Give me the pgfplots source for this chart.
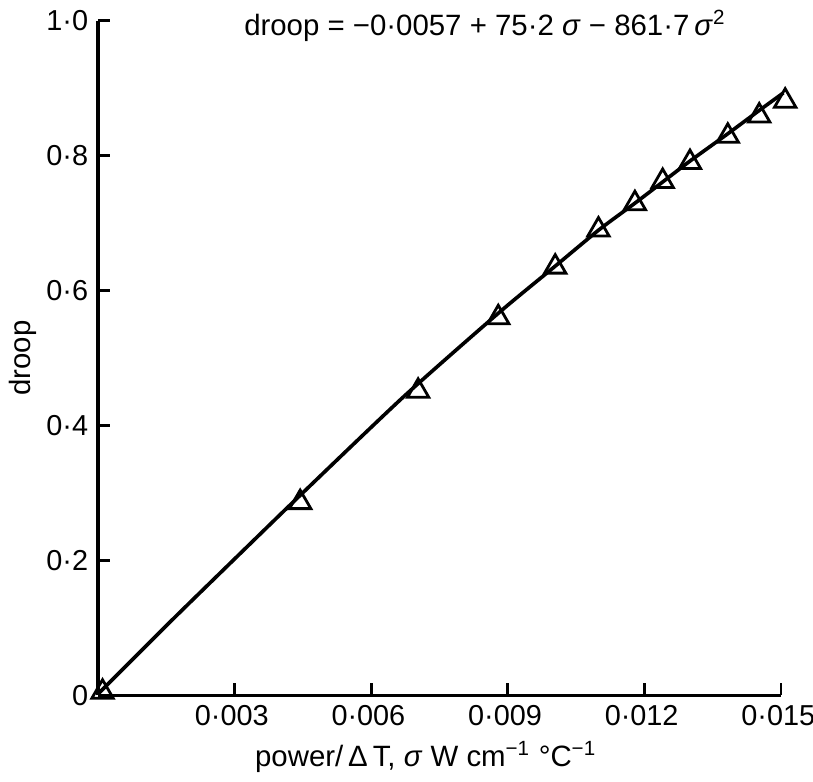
\documentclass[border=0pt]{standalone}
\usepackage{pgfplots}
\pgfplotsset{compat=1.18}
\usepackage{fontspec}
\setmainfont{Liberation Sans}
\begin{document}
\begin{tikzpicture}
\path[use as bounding box] (-35pt,-30.7pt) rectangle (255.4pt,248.4pt);
\begin{axis}[
  at={(0pt,0pt)}, anchor=south west,
  scale only axis, width=244pt, height=241pt,
  xmin=0, xmax=0.015, ymin=0, ymax=1,
  axis x line=bottom, axis y line=left,
  axis line style={-, line width=1.2pt, black},
  tick align=inside,
  major tick length=4.3pt,
  tick style={line width=1pt, black},
  xtick={0.003,0.006,0.009,0.012,0.015},
  xticklabels={0·003,0·006,0·009,0·012,0·015},
  ytick={0,0.2,0.4,0.6,0.8,1.0},
  yticklabels={0,0·2,0·4,0·6,0·8,1·0},
  scaled x ticks=false,
  tick label style={font=\fontsize{10.3}{12}\selectfont},
  xticklabel style={xshift=-1pt},
  clip=false,
]
\addplot[black, line width=1.3pt, smooth, tension=0.4] coordinates {
(0.0000,0.002) (0.0016,0.110) (0.0033,0.222) (0.0044,0.294) (0.0067,0.442)
(0.0088,0.567) (0.0100,0.634) (0.0110,0.690) (0.0118,0.730)
(0.0124,0.761) (0.0130,0.792) (0.0138,0.831) (0.0145,0.866) (0.01505,0.893)
};
\addplot[only marks, mark=triangle, mark size=4.4pt, mark options={line width=1pt, black, fill=none}] coordinates {
(0.0001,0.005) (0.00444,0.286) (0.00703,0.451) (0.00879,0.560) (0.01004,0.635)
(0.01099,0.690) (0.01179,0.729) (0.01240,0.762) (0.01300,0.790) (0.01383,0.829)
(0.01452,0.859) (0.01509,0.881)
};
\node[anchor=base, font=\fontsize{10.5}{12}\selectfont] at (axis cs:0.0085,0.978)
  {droop = −0·0057 + 75·2 \textit{σ} − 861·7\,\textit{σ}\textsuperscript{2}};
\node[anchor=base, font=\fontsize{10.5}{12}\selectfont] at (axis cs:0.0072,-0.105)
  {power/\,Δ\,T, \textit{σ} W cm\textsuperscript{−1} °C\textsuperscript{−1}};
\node[rotate=90, font=\fontsize{10.5}{12}\selectfont] at (axis cs:-0.00164,0.5) {droop};
\end{axis}
\end{tikzpicture}
\end{document}
